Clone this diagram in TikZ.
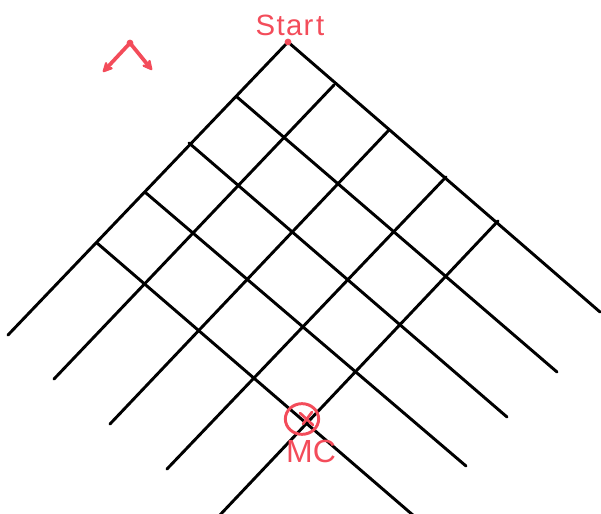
\documentclass[tikz,border=0pt]{standalone}
\usepackage{fontspec}
\setmainfont{Liberation Sans}
\usetikzlibrary{arrows.meta, shapes.geometric}
\definecolor{penred}{RGB}{243,76,90}

\begin{document}
\begin{tikzpicture}[
    x=0.75pt, y=-0.75pt,
    >={Stealth[length=3.4mm, width=3.4mm, round]},
    gridline/.style={draw, line width=2.2pt, line cap=round},
    penline/.style={draw=penred, line width=2.8pt, line cap=round, line join=round},
    redtext/.style={text=penred, font=\fontsize{22}{25}\selectfont, inner sep=0pt},
]
\useasboundingbox (0,0) rectangle (601,514);
% edge points of the grid (r: right edge, l: left edge)
\coordinate (start) at (288,42);
\coordinate (r0) at (288,42);
\coordinate (r1) at (334,85);
\coordinate (r2) at (389,130);
\coordinate (r3) at (446,177);
\coordinate (r4) at (498,221);
\coordinate (l0) at (288,42);
\coordinate (l1) at (237,97);
\coordinate (l2) at (189,143);
\coordinate (l3) at (146,193);
\coordinate (l4) at (97,243);
% free ends of the lines
\coordinate (a0) at (8,335);
\coordinate (a1) at (54,379);
\coordinate (a2) at (110,424);
\coordinate (a3) at (167,469);
\coordinate (a4) at (219,516);
\coordinate (b0) at (600,312);
\coordinate (b1) at (557,372);
\coordinate (b2) at (507,417);
\coordinate (b3) at (466,466);
\coordinate (b4) at (414,516);
% grid
\foreach \i in {0,...,4} {
  \draw[gridline] (r\i) -- (a\i);
  \draw[gridline] (l\i) -- (b\i);
}
% start marker
\fill[penred] (start) circle (3.4);
\node[redtext, anchor=south] (startlbl) at (290,36) {S\kern1pt t\kern1pt a\kern1pt r\kern2pt t};
% direction sign
\coordinate (peak) at (130,43);
\coordinate (dl) at (103,72);
\coordinate (dr) at (152,70);
\draw[penline, ->] (peak) -- (dl);
\draw[penline, ->] (peak) -- (dr);
\fill[penred] (peak) circle (3.4);
% target marker
\node[draw=penred, line width=2.2pt, ellipse, minimum width=25pt, minimum height=23pt, inner sep=0pt] (mc) at (302,419) {};
\draw[penline, line width=2pt] (300,413) -- (313,425);
\draw[penline, line width=2pt] (312,412) -- (303,424);
\node[redtext, font=\fontsize{24}{27}\selectfont, anchor=north] (mclbl) at (311,440) {MC};
\end{tikzpicture}
\end{document}
